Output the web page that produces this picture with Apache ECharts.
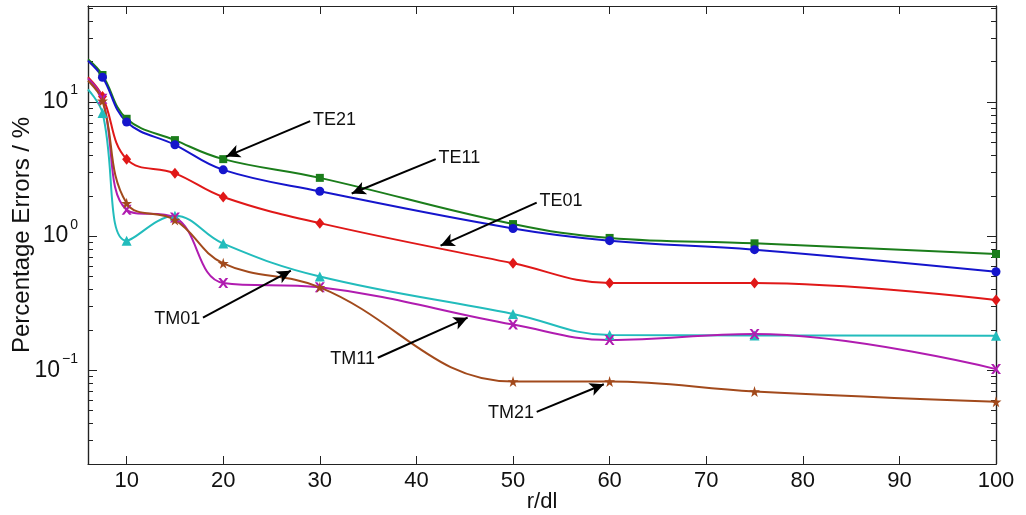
<!DOCTYPE html>
<html>
<head>
<meta charset="utf-8">
<script src="https://cdn.jsdelivr.net/npm/echarts@6/dist/echarts.min.js"></script>
<style>
html,body{margin:0;padding:0;background:#fff;}
#chart{width:1026px;height:515px;}
</style>
</head>
<body>
<div id="chart"></div>
<script>
// ---- data ----
const xValues = [6, 7.5, 10, 15, 20, 30, 50, 60, 75, 100];
const TE21 = [20.8, 15.9, 7.5, 5.2, 3.75, 2.72, 1.23, 0.97, 0.884, 0.736];
const TE11 = [20.3, 15.3, 7.1, 4.8, 3.12, 2.16, 1.14, 0.925, 0.793, 0.543];
const TE01 = [15.3, 11.0, 3.75, 2.94, 1.96, 1.25, 0.627, 0.448, 0.448, 0.334];
const TM01 = [12.4, 8.3, 0.925, 1.42, 0.88, 0.50, 0.263, 0.183, 0.182, 0.181];
const TM11 = [15.0, 10.6, 1.57, 1.38, 0.448, 0.415, 0.219, 0.168, 0.186, 0.102];
const TM21 = [14.4, 10.2, 1.76, 1.32, 0.627, 0.415, 0.0825, 0.0825, 0.0695, 0.0582];

const xTicks = [10, 20, 30, 40, 50, 60, 70, 80, 90, 100];
const yMajorTicks = [0.1, 1, 10];
const yMinorTicks = [0.02,0.03,0.04,0.05,0.06,0.07,0.08,0.09,0.2,0.3,0.4,0.5,0.6,0.7,0.8,0.9,2,3,4,5,6,7,8,9,20,30,40,50];

// annotations: label, text anchor [x, y], arrow tip [x, y] (data units)
const annotLabels = ['TE21', 'TE11', 'TE01', 'TM01', 'TM11', 'TM21'];
const annotFrom = [[29.0, 7.21], [42.0, 3.75], [52.45, 1.78], [17.9, 0.2465], [36.0, 0.124], [52.45, 0.049]];
const annotTo = [[20.3, 3.92], [33.3, 2.08], [42.5, 0.849], [27.0, 0.553], [45.3, 0.2465], [59.4, 0.0787]];

// ---- styling ----
const FONT = '"Liberation Sans", Arial, Helvetica, sans-serif';
const AXIS_COLOR = '#222';
const TEXT_COLOR = '#111';
const starPath = 'path://M50,0 L61,35 L98,35 L68,57 L79,91 L50,70 L21,91 L32,57 L2,35 L39,35 Z';
const xPath = 'path://M0,0 L2.5,0 L5,3.2 L7.5,0 L10,0 L6.3,5 L10,10 L7.5,10 L5,6.8 L2.5,10 L0,10 L3.7,5 Z';

const seriesDefs = [
  {name: 'TE21', values: TE21, color: '#1b7d1b', symbol: 'rect', size: 8},
  {name: 'TE11', values: TE11, color: '#1515cc', symbol: 'circle', size: 9},
  {name: 'TE01', values: TE01, color: '#e01818', symbol: 'diamond', size: [9, 11]},
  {name: 'TM01', values: TM01, color: '#22bcbc', symbol: 'triangle', size: 10},
  {name: 'TM11', values: TM11, color: '#b01cb0', symbol: xPath, size: 10},
  {name: 'TM21', values: TM21, color: '#a24a1c', symbol: starPath, size: 11}
];

const series = seriesDefs.map(function (d) {
  return {
    name: d.name,
    type: 'line',
    xAxisIndex: 0,
    yAxisIndex: 0,
    smooth: 0.4,
    symbol: d.symbol,
    symbolSize: d.size,
    showSymbol: true,
    clip: true,
    lineStyle: {color: d.color, width: 2},
    itemStyle: {color: d.color},
    emphasis: {disabled: true},
    data: xValues.map(function (x, i) {
      const item = {value: [x, d.values[i]]};
      if (i === 0) item.symbol = 'none';
      return item;
    }),
    z: 3
  };
});

// annotation arrows as markLine on a helper series
series.push({
  name: 'annotations',
  type: 'line',
  xAxisIndex: 0,
  yAxisIndex: 0,
  data: [],
  z: 5,
  markLine: {
    silent: true,
    animation: false,
    symbol: ['none', 'arrow'],
    symbolSize: [10, 14],
    lineStyle: {color: '#000', width: 2, type: 'solid'},
    label: {
      show: true,
      position: 'start',
      distance: 3,
      formatter: '{b}',
      fontFamily: FONT,
      fontSize: 18,
      color: TEXT_COLOR
    },
    data: annotLabels.map(function (lab, i) {
      return [{name: lab, coord: annotFrom[i]}, {coord: annotTo[i]}];
    })
  }
});

function expLabel(v) {
  const e = Math.round(Math.log10(v));
  const es = e < 0 ? '\u2212' + (-e) : String(e);
  return '{b|10}{s|' + es + '}';
}

const yBase = {
  type: 'log',
  logBase: 10,
  min: 0.02,
  max: 52,
  gridIndex: 0,
  splitLine: {show: false},
  minorTick: {show: false},
  axisLine: {show: true, lineStyle: {color: AXIS_COLOR, width: 1.2}}
};

const option = {
  animation: false,
  backgroundColor: '#fff',
  grid: {left: 88, right: 30, top: 6, bottom: 51, containLabel: false, outerBoundsMode: 'none'},
  tooltip: {show: false},
  xAxis: [
    {
      type: 'value', min: 6, max: 100, position: 'bottom',
      name: 'r/dl', nameLocation: 'middle', nameGap: 27, nameMoveOverlap: false,
      nameTextStyle: {fontFamily: FONT, fontSize: 22, color: TEXT_COLOR},
      splitLine: {show: false},
      axisLine: {show: true, onZero: false, lineStyle: {color: AXIS_COLOR, width: 1.2}},
      axisTick: {show: true, inside: true, length: 8, customValues: xTicks, lineStyle: {color: AXIS_COLOR}},
      axisLabel: {show: true, customValues: xTicks, margin: 6, fontFamily: FONT, fontSize: 22, color: TEXT_COLOR}
    },
    {
      type: 'value', min: 6, max: 100, position: 'top',
      splitLine: {show: false},
      axisLine: {show: true, onZero: false, lineStyle: {color: AXIS_COLOR, width: 1.2}},
      axisTick: {show: true, inside: true, length: 8, customValues: xTicks, lineStyle: {color: AXIS_COLOR}},
      axisLabel: {show: false}
    }
  ],
  yAxis: [
    Object.assign({}, yBase, {
      position: 'left',
      name: 'Percentage Errors / %', nameLocation: 'middle', nameGap: 54, nameRotate: 90, nameMoveOverlap: false,
      nameTextStyle: {fontFamily: FONT, fontSize: 24, color: TEXT_COLOR},
      axisTick: {show: true, inside: true, length: 9, customValues: yMajorTicks, lineStyle: {color: AXIS_COLOR}},
      axisLabel: {
        show: true, customValues: yMajorTicks, margin: 10, formatter: expLabel,
        padding: [0, 0, 0, 0],
        rich: {
          b: {fontFamily: FONT, fontSize: 23, lineHeight: 23, color: TEXT_COLOR, verticalAlign: 'bottom'},
          s: {fontFamily: FONT, fontSize: 14, lineHeight: 14, color: TEXT_COLOR, verticalAlign: 'bottom', padding: [0, 0, 16, 2]}
        }
      }
    }),
    Object.assign({}, yBase, {
      position: 'left',
      axisTick: {show: true, inside: true, length: 5, customValues: yMinorTicks, lineStyle: {color: AXIS_COLOR}},
      axisLabel: {show: false}
    }),
    Object.assign({}, yBase, {
      position: 'right',
      axisTick: {show: true, inside: true, length: 9, customValues: yMajorTicks, lineStyle: {color: AXIS_COLOR}},
      axisLabel: {show: false}
    }),
    Object.assign({}, yBase, {
      position: 'right',
      axisTick: {show: true, inside: true, length: 5, customValues: yMinorTicks, lineStyle: {color: AXIS_COLOR}},
      axisLabel: {show: false}
    })
  ],
  series: series
};

const chart = echarts.init(document.getElementById('chart'), null, {renderer: 'canvas'});
chart.setOption(option);
</script>
</body>
</html>
